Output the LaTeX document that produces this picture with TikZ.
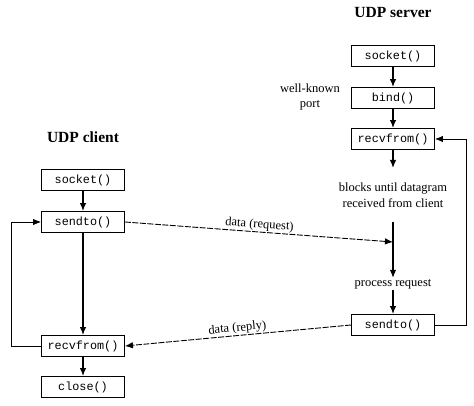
\documentclass[tikz,border=0pt]{standalone}
\usepackage{fontspec}
\setmainfont{Liberation Serif}
\setmonofont{Liberation Mono}
\usetikzlibrary{arrows.meta}

\begin{document}
\begin{tikzpicture}[x=1pt,y=-1pt,
  call/.style={draw,line width=0.9pt,minimum width=83pt,minimum height=21pt,
    inner sep=0pt,font=\fontsize{11.8}{13}\selectfont\ttfamily},
  title/.style={font=\fontsize{15.5}{17}\selectfont\bfseries},
  note/.style={align=center,inner sep=1pt,font=\fontsize{12.5}{15.5}\selectfont},
  flow/.style={line width=1.3pt,-{Latex[length=8pt,width=6.5pt]}},
  msg/.style={line width=0.9pt,dash pattern=on 6pt off 1.5pt,-{Latex[length=8pt,width=6.5pt]}},
  loop/.style={line width=0.9pt,-{Latex[length=8pt,width=6.5pt]}}]

  \useasboundingbox (0,0) rectangle (474,406);

  %% client
  \node[title] (ctitle) at (83,137) {UDP client};
  \node[call] (csock) at (83,180) {socket()};
  \node[call] (csend) at (83,222) {sendto()};
  \node[call] (crecv) at (83,346) {recvfrom()};
  \node[call] (cclose) at (83,387) {close()};

  %% server
  \node[title] (stitle) at (393,13) {UDP server};
  \node[call] (ssock) at (393,56) {socket()};
  \node[call] (sbind) at (393,98) {bind()};
  \node[call] (srecv) at (393,139) {recvfrom()};
  \node[note] (port) at (310,97) {well-known\\port};
  \node[note] (blocks) at (393,195) {blocks until datagram\\received from client};
  \node[note] (proc) at (393,284) {process request};
  \node[call] (ssend) at (393,325) {sendto()};

  \coordinate (wait) at (393,168);
  \coordinate (resume) at (393,222);
  \coordinate (reqin) at (393,242);

  %% client flow
  \draw[flow] (csock) -- (csend);
  \draw[flow] (csend) -- (crecv);
  \draw[flow] (crecv) -- (cclose);
  \draw[loop] (crecv.west) -- ++(-30,0) |- (csend.west);

  %% server flow
  \draw[flow] (ssock) -- (sbind);
  \draw[flow] (sbind) -- (srecv);
  \draw[flow] (srecv) -- (wait);
  \draw[flow] (resume) -- (proc);
  \draw[flow] (proc) -- (ssend);
  \draw[loop] (ssend.east) -- ++(31,0) |- (srecv.east);

  %% datagrams
  \draw[msg] (csend.east) -- node[note,above,sloped] {data (request)} (reqin);
  \draw[msg] (ssend.west) -- node[note,above,sloped] {data (reply)} (crecv.east);

\end{tikzpicture}
\end{document}
